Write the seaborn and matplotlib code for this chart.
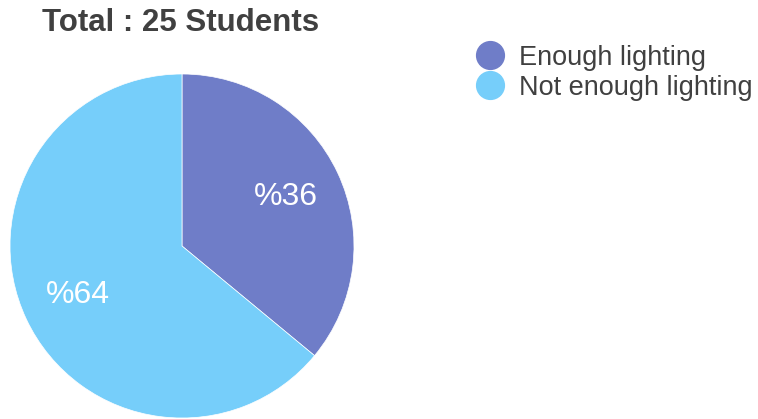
import matplotlib
matplotlib.use("Agg")
import matplotlib.pyplot as plt
import seaborn as sns
from matplotlib.lines import Line2D

categories = ["Enough lighting", "Not enough lighting"]
values = [36, 64]
colors = ["#6f7dc8", "#76cefa"]
title = "Total : 25 Students"

sns.set_theme(style="white")
plt.rcParams['font.family'] = ['Liberation Sans', 'DejaVu Sans']

W, H = 758, 419
fig = plt.figure(figsize=(W/100, H/100), dpi=100)
cx, cy, r = 182, 246, 172
ax = fig.add_axes([(cx - r)/W, (H - cy - r)/H, 2*r/W, 2*r/H])
wedges, texts, autotexts = ax.pie(
    values, colors=colors, startangle=90, counterclock=False, radius=1,
    autopct=lambda p: f"%{p:.0f}", pctdistance=0.67,
    textprops=dict(color="white", fontsize=23),
    wedgeprops=dict(linewidth=0.5, edgecolor="white"))
ax.set_xlim(-1, 1); ax.set_ylim(-1, 1)
ax.set_aspect('equal')
ax.axis('off')

fig.text(42/W, 1 - 23/H, title, fontsize=22.5, fontweight='bold', color='#404040',
         ha='left', va='center')

handles = [Line2D([0], [0], marker='o', linestyle='', markersize=20,
                  markerfacecolor=c, markeredgecolor=c) for c in colors]
fig.legend(handles, categories, loc='upper left', bbox_to_anchor=(463/W, 1 - 31/H),
           frameon=False, fontsize=19.5, handletextpad=0.55, labelspacing=0.15,
           labelcolor='#404040', handlelength=1.0, borderpad=0)

fig.savefig("out.png", dpi=100)
